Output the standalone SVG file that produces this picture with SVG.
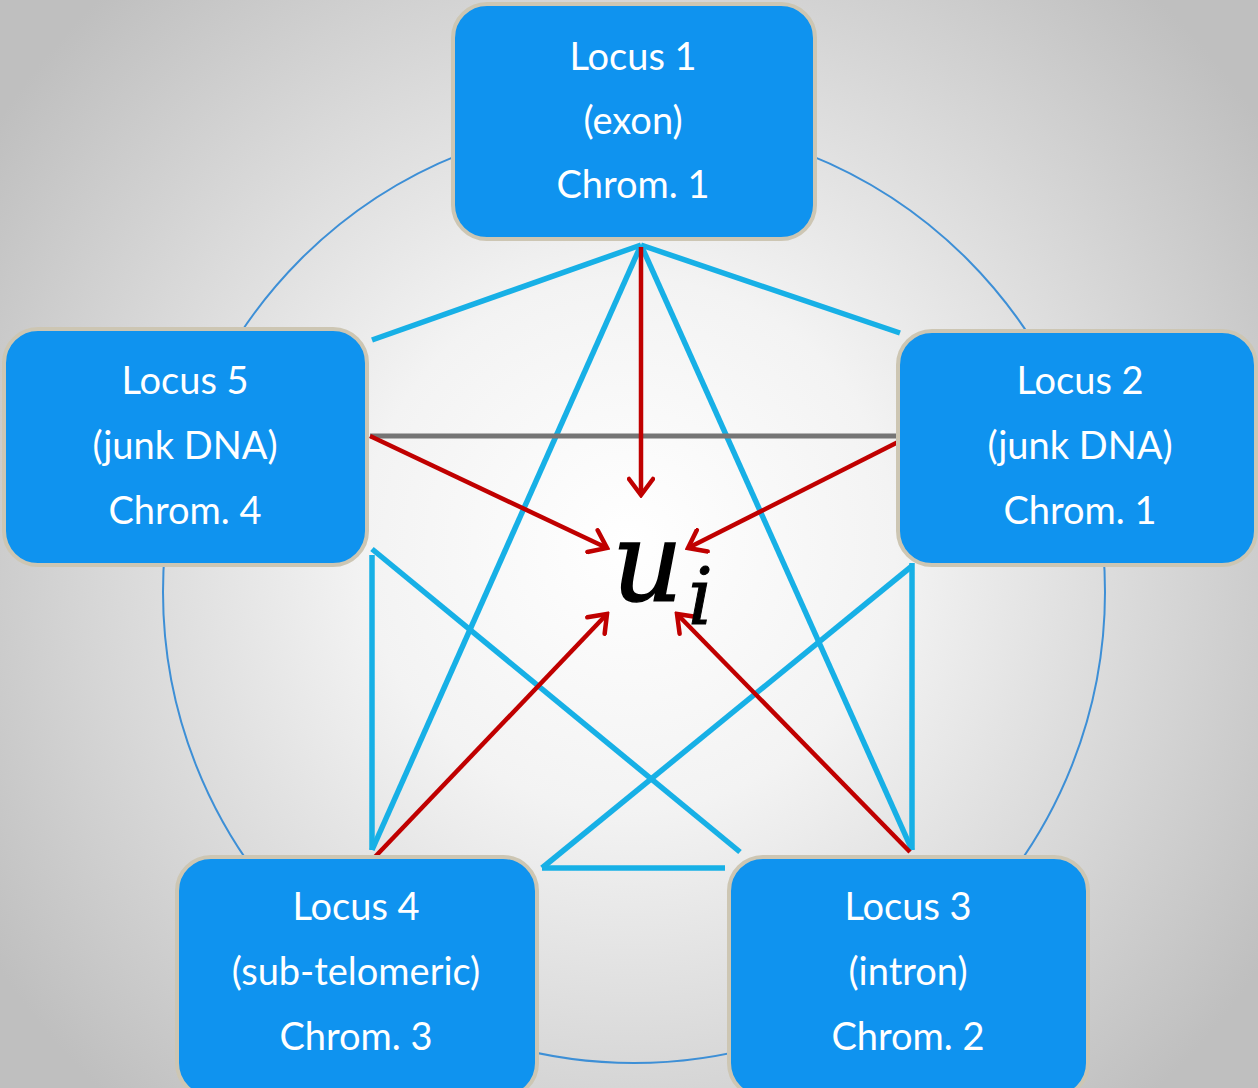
<svg xmlns="http://www.w3.org/2000/svg" width="1258" height="1088" viewBox="0 0 1258 1088">
<defs>
<radialGradient id="bg" cx="629" cy="544" r="760" gradientUnits="userSpaceOnUse">
<stop offset="0" stop-color="#ffffff"/>
<stop offset="0.35" stop-color="#f3f3f3"/>
<stop offset="1" stop-color="#bfbfbf"/>
</radialGradient>
<marker id="ah" viewBox="0 0 22 28" refX="19" refY="14" markerWidth="22" markerHeight="28" markerUnits="userSpaceOnUse" orient="auto">
<path d="M3,2 L19,14 L3,26" fill="none" stroke="#c00000" stroke-width="4.5" stroke-linecap="round"/>
</marker>
<style>
.box{fill:#0f93ef;stroke:#cdc6b3;stroke-width:4}
.t{font-family:Lato,"Open Sans",sans-serif;font-size:38px;fill:#ffffff;text-anchor:middle}
.b{stroke:#17b0e6;stroke-width:5.5;fill:none;stroke-linecap:butt}
.r{stroke:#c00000;stroke-width:4.5;fill:none;marker-end:url(#ah)}
</style>
</defs>
<rect width="1258" height="1088" fill="url(#bg)"/>
<circle cx="634" cy="592" r="471" fill="none" stroke="#3d8fd6" stroke-width="2"/>
<g id="connectors">
<line class="b" x1="641" y1="245" x2="372" y2="340"/>
<line class="b" x1="641" y1="245" x2="900" y2="333"/>
<line class="b" x1="641" y1="245" x2="372" y2="850"/>
<line class="b" x1="641" y1="245" x2="912" y2="850"/>
<line class="b" x1="372" y1="555" x2="372" y2="850"/>
<line class="b" x1="912" y1="563" x2="912" y2="850"/>
<line class="b" x1="372" y1="549" x2="740" y2="852"/>
<line class="b" x1="912" y1="566" x2="542" y2="868"/>
<line class="b" x1="542" y1="868" x2="725" y2="868"/>
<line x1="370" y1="436" x2="908" y2="436" stroke="#757575" stroke-width="5"/>
<line class="r" x1="641" y1="247" x2="641" y2="495"/>
<line class="r" x1="370" y1="436" x2="607" y2="548"/>
<line class="r" x1="908" y1="437" x2="688" y2="548"/>
<line class="r" x1="372" y1="860" x2="607" y2="614"/>
<line class="r" x1="910" y1="852" x2="677" y2="614"/>
</g>
<g id="ui">
<text x="612" y="600" font-family="DejaVu Serif,serif" font-style="italic" font-size="110" fill="#000" stroke="#000" stroke-width="1.5">u</text>
<text x="688" y="624" font-family="DejaVu Serif,serif" font-style="italic" font-size="78" fill="#000" stroke="#000" stroke-width="1">i</text>
</g>
<g id="locus1">
<rect class="box" x="453" y="4" width="362" height="235" rx="34"/>
<text class="t" x="633" y="70">Locus 1</text>
<text class="t" x="633" y="134">(exon)</text>
<text class="t" x="633" y="198">Chrom. 1</text>
</g>
<g id="locus5">
<rect class="box" x="4" y="329" width="363" height="236" rx="34"/>
<text class="t" x="185" y="394">Locus 5</text>
<text class="t" x="185" y="459">(junk DNA)</text>
<text class="t" x="185" y="524">Chrom. 4</text>
</g>
<g id="locus2">
<rect class="box" x="898" y="331" width="358" height="234" rx="34"/>
<text class="t" x="1080" y="394">Locus 2</text>
<text class="t" x="1080" y="459">(junk DNA)</text>
<text class="t" x="1080" y="524">Chrom. 1</text>
</g>
<g id="locus4">
<rect class="box" x="177" y="857" width="360" height="240" rx="34"/>
<text class="t" x="356" y="920">Locus 4</text>
<text class="t" x="356" y="985">(sub-telomeric)</text>
<text class="t" x="356" y="1050">Chrom. 3</text>
</g>
<g id="locus3">
<rect class="box" x="729" y="857" width="359" height="240" rx="34"/>
<text class="t" x="908" y="920">Locus 3</text>
<text class="t" x="908" y="985">(intron)</text>
<text class="t" x="908" y="1050">Chrom. 2</text>
</g>
</svg>
